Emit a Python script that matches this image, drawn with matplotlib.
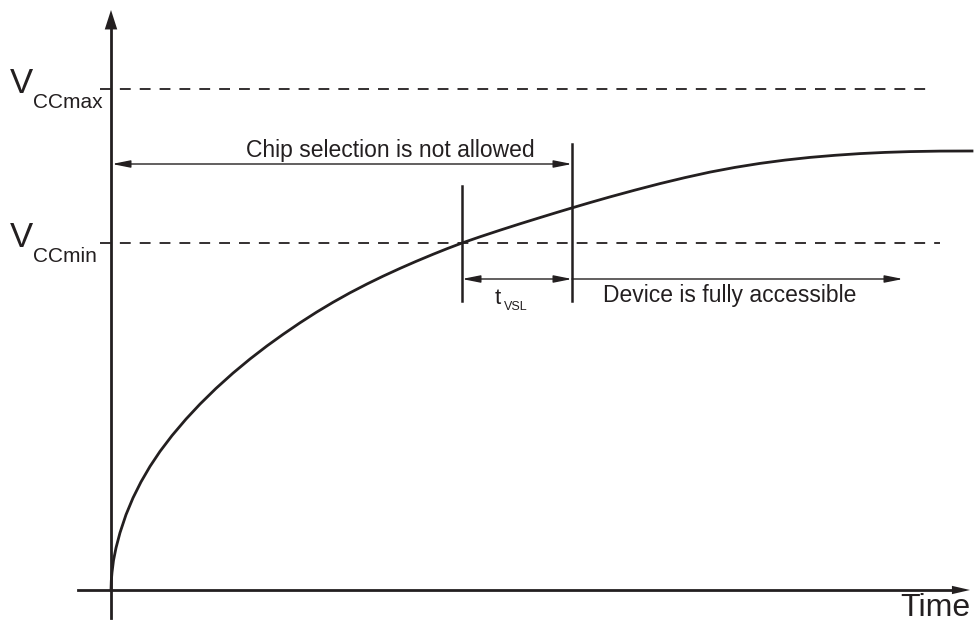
import matplotlib
matplotlib.use('Agg')
import matplotlib.pyplot as plt
from matplotlib.patches import FancyArrowPatch

plt.rcParams['font.family'] = ['Liberation Sans', 'DejaVu Sans']

INK = '#231f20'

# diagram drawn in pixel units of the 978x623 canvas (y grows downwards)
curve_x = [111, 111.3, 112, 113.5, 116, 120, 126, 133, 141, 150, 160, 172, 186,
           200, 216, 233, 250, 267, 283, 300, 316.5, 333, 350, 367, 383, 400,
           416, 433, 447, 462, 480, 500, 520, 540, 556, 572, 590, 610, 635, 660,
           685, 710, 735, 760, 785, 810, 835, 860, 885, 910, 940, 972]
curve_y = [590, 580.8, 572.4, 560.4, 547.9, 532.7, 514.7, 497.9, 481.9, 466.4,
           451.4, 435.6, 419.1, 404.1, 388.4, 373.1, 359, 345.9, 334.4, 322.8,
           312.2, 302.3, 292.8, 284, 276.2, 268.4, 261.4, 254.3, 248.7, 243,
           236.8, 230.2, 223.8, 217.6, 212.7, 207.9, 202.6, 196.9, 190.1, 183.6,
           177.6, 172.1, 167.4, 163.4, 160.1, 157.4, 155.3, 153.6, 152.4, 151.6,
           151.1, 151]

vcc_names = ['max', 'min']
vcc_y = [89, 243]
vcc_end = [930, 940]

origin = (111, 590)
y_axis_top = 10
x_axis_right = 970

t_cross = 462      # curve crosses VCCmin
t_ready = 572      # end of tVSL
t_end = 903
chip_y = 164
tvsl_y = 279

fig = plt.figure(figsize=(9.78, 6.23), dpi=100)
ax = fig.add_axes([0, 0, 1, 1])
ax.set_xlim(0, 978)
ax.set_ylim(623, 0)
ax.axis('off')


def arrow(p0, p1, style, lw=1.0, scale=10):
    ax.add_patch(FancyArrowPatch(p0, p1, arrowstyle=style, mutation_scale=scale,
                                 color=INK, lw=lw, shrinkA=0, shrinkB=0))


# axes with arrow heads
ax.plot([origin[0], origin[0]], [618, 28], color=INK, lw=2)
arrow((origin[0], 40), (origin[0], y_axis_top), '-|>,head_length=1.4,head_width=0.45', lw=0, scale=10)
ax.plot([78, 955], [origin[1], origin[1]], color=INK, lw=2)
arrow((940, origin[1]), (x_axis_right, origin[1]), '-|>,head_length=1.3,head_width=0.3', lw=0, scale=10)

# VCC levels
for name, y, xe in zip(vcc_names, vcc_y, vcc_end):
    ax.plot([100, xe], [y, y], color=INK, lw=1.3, dashes=(6, 5))
    ax.text(10, y + 4, 'V', fontsize=25, color=INK, ha='left', va='baseline')
    ax.text(33, y + 19, 'CC' + name, fontsize=15, color=INK, ha='left', va='baseline')

# supply curve
ax.plot(curve_x, curve_y, color=INK, lw=2, solid_joinstyle='round')

# timing markers
ax.plot([t_cross, t_cross], [186, 301], color=INK, lw=1.8)
ax.plot([t_ready, t_ready], [144, 301], color=INK, lw=1.8)

arrow((origin[0] + 1, chip_y), (t_ready, chip_y), '<|-|>,head_length=1.1,head_width=0.22')
ax.text(390, chip_y - 7, 'Chip selection is not allowed',
        fontsize=16.5, color=INK, ha='center', va='baseline')

arrow((t_cross, tvsl_y), (t_ready, tvsl_y), '<|-|>,head_length=1.1,head_width=0.22')
ax.text(495, 304, 't', fontsize=16, color=INK, ha='left', va='baseline')
ax.text(504, 310, 'VSL', fontsize=9, color=INK, ha='left', va='baseline')

arrow((t_ready, tvsl_y), (t_end, tvsl_y), '-|>,head_length=1.1,head_width=0.22')
ax.text(730, 302, 'Device is fully accessible', fontsize=16.5, color=INK,
        ha='center', va='baseline')

ax.text(970, 616, 'Time', fontsize=23, color=INK, ha='right', va='baseline')

fig.savefig('out.png', dpi=100)
